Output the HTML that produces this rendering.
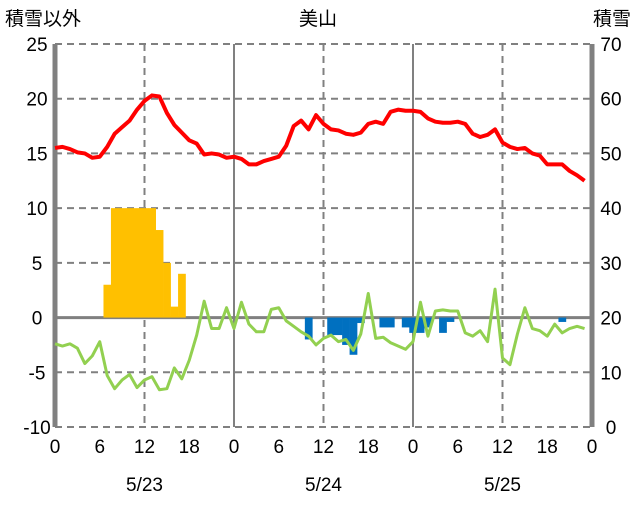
<!DOCTYPE html>
<html><head><meta charset="utf-8"><style>
body{margin:0;background:#fff}
text{font-family:"Liberation Sans","Noto Sans CJK JP",sans-serif;font-size:19px;fill:#000}
</style></head><body>
<svg id="c" width="636" height="501" xmlns="http://www.w3.org/2000/svg">
<text x="5" y="25">積雪以外</text>
<text x="318" y="25" text-anchor="middle">美山</text>
<text x="631" y="25" text-anchor="end">積雪</text>
<g id="grid"></g><g id="bars"></g><g id="lines"></g><g id="labels"></g>
</svg>
<script>
const leftTicks=[25,20,15,10,5,0,-5,-10];
const rightTicks=[70,60,50,40,30,20,10,0];
const hourLabels=[0,6,12,18,0,6,12,18,0,6,12,18,0];
const dateLabels=["5/23","5/24","5/25"];
const temp=[15.5,15.6,15.4,15.1,15.0,14.6,14.7,15.6,16.8,17.4,18.0,19.0,19.8,20.3,20.2,18.7,17.6,16.9,16.2,15.9,14.9,15.0,14.9,14.6,
14.7,14.5,14.0,14.0,14.3,14.5,14.7,15.7,17.5,18.0,17.2,18.5,17.7,17.2,17.1,16.8,16.7,16.9,17.7,17.9,17.7,18.8,19.0,18.9,
18.9,18.8,18.2,17.9,17.8,17.8,17.9,17.7,16.8,16.5,16.7,17.2,16.0,15.6,15.4,15.5,15.0,14.8,14.0,14.0,14.0,13.4,13.0,12.5];
const other=[-2.4,-2.6,-2.4,-2.8,-4.2,-3.5,-2.2,-5.3,-6.5,-5.7,-5.2,-6.4,-5.7,-5.4,-6.6,-6.5,-4.6,-5.6,-3.9,-1.6,1.5,-1.0,-1.0,0.9,
-1.0,1.4,-0.6,-1.3,-1.3,0.75,0.9,-0.3,-0.8,-1.3,-1.7,-2.5,-1.9,-1.6,-2.2,-2.0,-3.0,-1.5,2.2,-1.9,-1.8,-2.3,-2.6,-2.9,
-2.2,1.4,-1.7,0.6,0.7,0.6,0.6,-1.4,-1.7,-1.2,-2.2,2.6,-3.7,-4.3,-1.5,0.9,-1.0,-1.2,-1.7,-0.6,-1.4,-1.0,-0.8,-1.0];
const barHours=[7,8,9,10,11,12,13,14,15,16,17,34,37,38,39,40,41,44,45,47,48,49,50,52,53,68];
const barValues=[3,10,10,10,10,10,10,8,5,1,4,-2.0,-1.6,-1.6,-2.5,-3.4,-0.5,-0.9,-0.9,-0.9,-1.4,-1.4,-0.9,-1.4,-0.4,-0.4];

const X0=55,X1=592,Y25=44,Ym10=427;
const xs=h=>X0+h*(X1-X0)/72;
const ys=v=>Y25+(25-v)*(Ym10-Y25)/35;
const NS="http://www.w3.org/2000/svg";
function mk(tag,attrs,parent){const e=document.createElementNS(NS,tag);for(const k in attrs)e.setAttribute(k,attrs[k]);document.getElementById(parent).appendChild(e);return e;}
// horizontal grid
leftTicks.forEach((v,i)=>{
 const g=mk('line',{x1:X0,x2:X1,y1:ys(v),y2:ys(v),stroke:v===0?'#808080':'#808080','stroke-width':v===0?3:2,'stroke-dasharray':v===0?'none':'7,5'},'grid');
 
 
 const t=mk('text',{x:X0-18,y:ys(v)+7,'text-anchor':'middle'},'labels');t.textContent=v;
 
 
 const r=mk('text',{x:611,y:ys(v)+7,'text-anchor':'middle'},'labels');r.textContent=rightTicks[i];
 
 
});
// vertical grid
hourLabels.forEach((l,i)=>{
 const h=i*6;
 if(h%12===0){
  const solid=h%24===0;const edge=(h===0||h===72);
  const g=mk('line',{x1:xs(h),x2:xs(h),y1:Y25,y2:Ym10,stroke:'#808080','stroke-width':edge?5:2,'stroke-dasharray':solid?'none':'7,5'},'grid');
  
  
 }
 const t=mk('text',{x:xs(h),y:453,'text-anchor':'middle'},'labels');t.textContent=l;
 
 
});
dateLabels.forEach((d,i)=>{
 const t=mk('text',{x:xs(12+24*i),y:491,'text-anchor':'middle'},'labels');t.textContent=d;
 
 
});
// bars
const bw=(X1-X0)/72;
barHours.forEach((h,i)=>{
 const v=barValues[i];
 const y=Math.min(ys(v),ys(0)),hh=Math.abs(ys(v)-ys(0));
 const b=mk('rect',{x:xs(h)-bw/2,y:y,width:bw+0.3,height:hh,fill:v>0?'#FFC000':'#0070C0'},'bars');
 
 
});
function line(arr,color,name){
 const p=mk('polyline',{points:arr.map((v,i)=>xs(i)+','+ys(v)).join(' '),fill:'none',stroke:color,'stroke-width':name==='temperature-line'?4:3,'stroke-linejoin':'round'},'lines');
 
 
}
line(other,'#92D050','other-line');
line(temp,'#FF0000','temperature-line');
</script>
</body></html>
